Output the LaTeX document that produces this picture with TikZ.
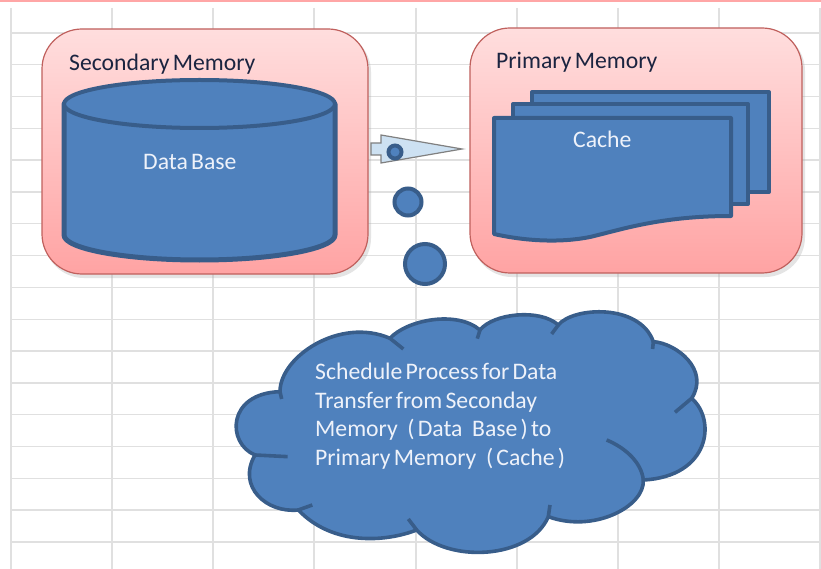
\documentclass[tikz,border=0pt]{standalone}
\usepackage{fontspec}
\setmainfont[WordSpace=0.6]{Carlito}
\definecolor{gridc}{HTML}{E0E0E0}
\definecolor{panelb}{HTML}{C0605D}
\definecolor{bluef}{HTML}{4F81BD}
\definecolor{blueb}{HTML}{385D8A}
\definecolor{darkt}{HTML}{1B2440}
\definecolor{lightt}{HTML}{EEF2FA}
\definecolor{arrowf}{HTML}{CDE1F2}
\tikzset{
  panel/.style={draw=panelb,line width=1.2pt,rounded corners=40pt,top color=red!13!white,bottom color=red!36!white},
  shade/.style={fill=black!30,opacity=.35,rounded corners=40pt},
  shapeb/.style={fill=bluef,draw=blueb,line width=4pt,line join=round},
  blob/.style={fill=bluef,draw=blueb,line width=4pt,circle,inner sep=0pt},
  gridl/.style={draw=gridc,line width=1.4pt},
  darklabel/.style={text=darkt,font=\fontsize{23.7}{28}\selectfont,anchor=base west,inner sep=0pt},
  lightlabel/.style={text=lightt,font=\fontsize{23.7}{28}\selectfont,anchor=base west,inner sep=0pt}
}
\begin{document}
\begin{tikzpicture}[x=1pt,y=-1pt]
\useasboundingbox (0,0) rectangle (821,569);
\fill[white] (0,0) rectangle (821,569);
\fill[red!35!white] (0,0) rectangle (821,2);
% grid
\foreach \x in {11,112,213,314,416,517,618,719,820} \draw[gridl] (\x,8) -- (\x,569);
\foreach \k in {0,...,16} \draw[gridl] (11,33+31.8*\k) -- (821,33+31.8*\k);
% panels
\fill[shade] (44,32) rectangle (371,278);
\fill[shade] (472,31) rectangle (805,277);
\path[panel] (42,29) rectangle (368,274);
\path[panel] (470,28) rectangle (802,273);
\node[darklabel] (sec) at (69,71) {Secondary Memory};
\node[darklabel] (pri) at (496,69) {Primary Memory};
% cylinder
\path[shapeb,line width=5pt] (64,104) -- (64,235) arc[start angle=180,end angle=0,x radius=135.5,y radius=25] -- (335,104) -- cycle;
\path[shapeb] (199.5,104) ellipse[x radius=135.5,y radius=24];
\node[lightlabel] (db) at (143,170) {Data Base};
% cache
\path[shapeb] (532,92) rectangle (769,192);
\path[shapeb] (513,104) rectangle (748,204);
\path[shapeb] (494,118) -- (731,118) -- (731,216) .. controls (660,216) and (620,230) .. (590,237) .. controls (560,243) and (525,241) .. (494,234) -- cycle;
\node[lightlabel] (cache) at (573,148) {Cache};
% arrow
\path[fill=arrowf,draw=black!50,line width=1.2pt,line join=miter]
  (381,135) -- (462,149) -- (381,163) -- (381,155) -- (371,155) -- (371,143) -- (381,143) -- cycle;
\node[blob,minimum size=13pt] (c1) at (395,152) {};
\node[blob,minimum size=27pt] (c2) at (408,202) {};
\node[blob,minimum size=40pt] (c3) at (425,264) {};
% cloud
\begin{scope}[shift={(230,300)},x=.3333pt,y=-.3333pt]
\path[shapeb,line width=3.6pt] (150,275)
  .. controls (150,170) and (330,50) .. (480,115)
  .. controls (530,60) and (680,30) .. (750,90)
  .. controls (790,40) and (930,25) .. (985,75)
  .. controls (1030,20) and (1230,10) .. (1270,125)
  .. controls (1340,130) and (1440,210) .. (1385,295)
  .. controls (1460,360) and (1440,530) .. (1240,540)
  .. controls (1245,620) and (1090,700) .. (955,650)
  .. controls (900,780) and (650,790) .. (560,690)
  .. controls (470,725) and (310,740) .. (205,630)
  .. controls (110,640) and (20,560) .. (75,465)
  .. controls (-10,430) and (-10,280) .. (150,275) -- cycle;
\draw[blueb,line width=3.6pt,line cap=butt]
  (150,275) -- (155,297)
  (480,115) -- (520,147)
  (750,90) -- (742,116)
  (985,75) -- (965,102)
  (1270,125) -- (1268,147)
  (1385,295) -- (1335,337)
  (1130,420) .. controls (1190,445) and (1235,490) .. (1240,540)
  (955,650) -- (960,615)
  (560,690) -- (535,657)
  (205,630) -- (247,615)
  (75,465) -- (173,470);
\end{scope}
\node[lightlabel] (t1) at (315,379) {Schedule Process for Data};
\node[lightlabel] (t2) at (315,408) {Transfer from Seconday};
\node[lightlabel] (t3) at (315,436) {Memory~~ ( Data~~ Base ) to};
\node[lightlabel] (t4) at (315,465) {Primary Memory~~ ( Cache )};
\end{tikzpicture}
\end{document}
